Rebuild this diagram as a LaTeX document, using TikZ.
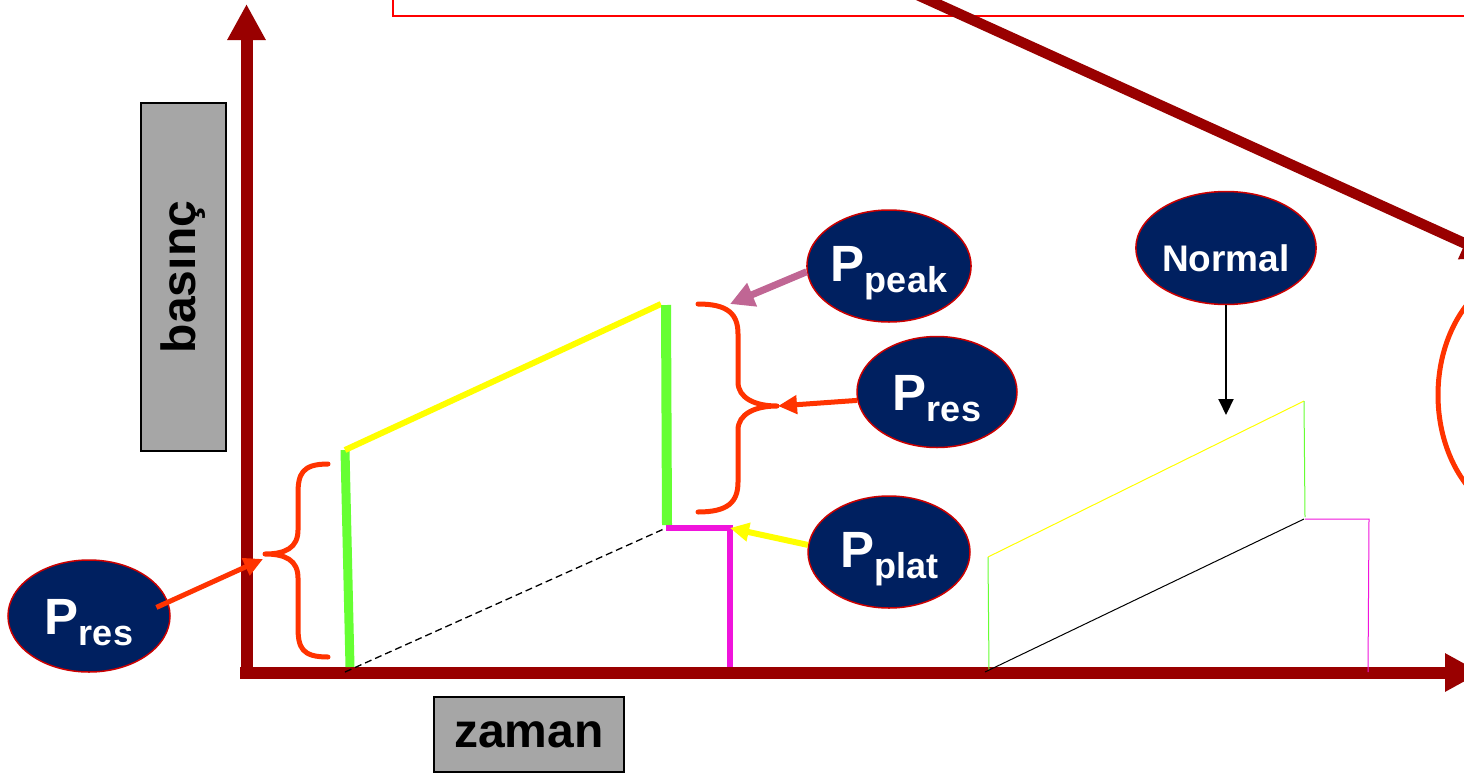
\documentclass[tikz,border=0pt]{standalone}
\usepackage{fontspec}
\setmainfont{Liberation Sans}
\usetikzlibrary{arrows.meta,shapes.geometric,calc}

\definecolor{axisred}{RGB}{153,0,0}
\definecolor{navy}{RGB}{0,32,96}
\definecolor{rim}{RGB}{204,0,0}
\definecolor{boxgray}{RGB}{166,166,166}
\definecolor{bracered}{RGB}{255,51,0}
\definecolor{limegreen}{RGB}{102,255,51}
\definecolor{hiyellow}{RGB}{255,255,0}
\definecolor{mauve}{RGB}{192,102,148}
\definecolor{platpink}{RGB}{240,20,220}

\tikzset{
  axis/.style={draw=axisred, line width=12pt, -{Triangle[length=36pt,width=36pt]}},
  bubble/.style={ellipse, fill=navy, draw=rim, line width=1.5pt,
    minimum width=162pt, minimum height=112pt, inner sep=0pt,
    text=white, font=\bfseries},
  axislabel/.style={draw=black, line width=2pt, fill=boxgray,
    font=\bfseries\fontsize{48}{48}\selectfont, inner sep=0pt},
  bracestyle/.style={draw=bracered, line width=5pt, line cap=round, line join=round},
  pointer/.style={line width=5pt, -{Triangle[length=19pt,width=18pt]}},
  thinline/.style={line width=1pt},
}

% big P with a lowered subscript; the strut sets the text a little low in its bubble
\newcommand{\psub}[1]{\rule{0pt}{49pt}{\fontsize{51}{51}\selectfont P}\raisebox{-11pt}{\fontsize{36}{36}\selectfont #1}}

\begin{document}
\begin{tikzpicture}[x=1pt,y=-1pt]
\useasboundingbox (0,0) rectangle (1464,774);
\fill[white] (0,0) rectangle (1464,774);

% title frame along the top edge
\draw[red, line width=2pt] (393,-10) rectangle (1480,16);

% long diagonal pointer
\draw[draw=axisred, line width=10.5pt, -{Triangle[length=34pt,width=32pt]}] (900,-13) -- (1496,257.6);

% outline on the right edge
\draw[bracered, line width=5pt] (1530,395) ellipse [x radius=92pt, y radius=124pt];

% axes
\draw[axis] (246.5,678) -- (246.5,4);
\draw[axis] (240,672.5) -- (1481,672.5);

% axis captions
\node[axislabel, rotate=90, minimum width=348pt, minimum height=85pt] (ylab) at (183.5,277) {basınç};
\node[axislabel, minimum width=190pt, minimum height=75pt] (xlab) at (529,734.5) {zaman};

% pressure curve
\draw[limegreen, line width=9pt] (345,450) -- (350,667);
\draw[hiyellow, line width=6pt] (345,450) -- (661,304);
\draw[limegreen, line width=10pt] (666,305) -- (667,525);
\draw[platpink, line width=6pt] (666,528) -- (730,528) -- (730,667);
\draw[black, line width=1.3pt, dash pattern=on 7pt off 4pt] (345,672) -- (666,528);

% normal curve
\draw[limegreen, thinline] (988,557) -- (989,670);
\draw[hiyellow, thinline] (988,557) -- (1304,401);
\draw[limegreen, thinline] (1304,401) -- (1305,517);
\draw[black, thinline] (985,672) -- (1304,519);
\draw[platpink, thinline] (1305,519) -- (1369,519) -- (1368,672);

% braces
\draw[bracestyle] (328,464) .. controls (302,464) and (298,474) .. (298,494)
  -- (298,530) .. controls (298,548) and (285,554) .. (265,554)
  .. controls (285,554) and (298,560) .. (298,578)
  -- (298,627) .. controls (298,648) and (302,657) .. (328,657);
\draw[bracestyle] (698,304) .. controls (728,304) and (738,314) .. (738,334)
  -- (738,382) .. controls (738,398) and (755,406) .. (777,406)
  .. controls (755,406) and (738,414) .. (738,430)
  -- (738,482) .. controls (738,502) and (728,512) .. (698,512);

% labels
\node[bubble] (pl) at (89,616) {\psub{res}};
\node[bubble] (pk) at (889,266) {\psub{peak}};
\node[bubble, minimum width=160pt, minimum height=111pt] (pr) at (937,392) {\psub{res}};
\node[bubble] (pp) at (889,552) {\psub{plat}};
\node[bubble, minimum height=113pt] (nm) at (1226,248) {\rule{0pt}{48pt}\fontsize{37}{37}\selectfont Normal};

% pointers
\coordinate (peaktip) at (730,304);
\coordinate (restip) at (778,406);
\coordinate (plattip) at (730,528);
\coordinate (lefttip) at (263,559);
\coordinate (normtip) at (1226,415);

\draw[pointer, mauve, line width=7pt, -{Triangle[length=24pt,width=24pt]}] (pk.184) -- (peaktip);
\draw[pointer, bracered] (pr.186) -- (restip);
\draw[pointer, hiyellow, line width=6pt] (pp.175) -- (plattip);
\draw[pointer, bracered, shorten <=-13pt] (pl.10) -- (lefttip);
\draw[black, line width=2pt, -{Triangle[length=16pt,width=15pt]}] (nm.south) -- (normtip);
\end{tikzpicture}
\end{document}
